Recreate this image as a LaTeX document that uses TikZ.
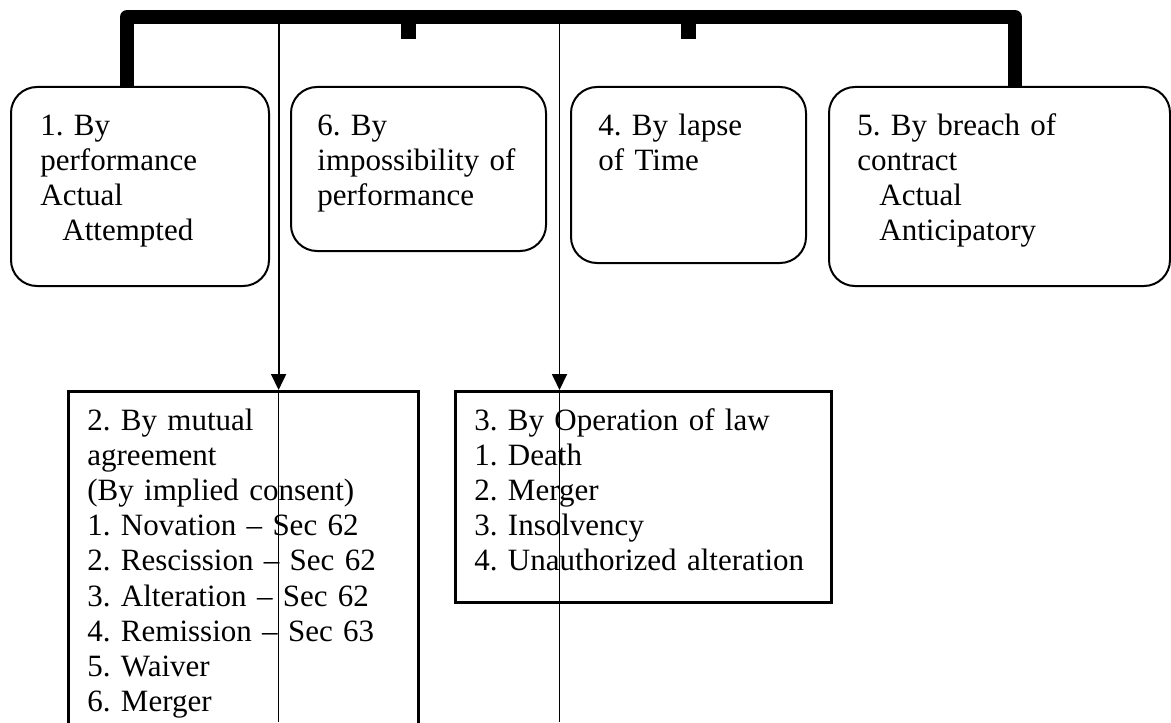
\documentclass[tikz,border=0pt]{standalone}
\usepackage{fontspec}
\setmainfont{Liberation Serif}
\usepackage{tikz}
\usetikzlibrary{arrows.meta}
\usetikzlibrary{positioning}
\newcommand{\shiftin}{\hspace*{11pt}}
\frenchspacing

\tikzset{
    roundbox/.style={draw=black, line width=1pt, rounded corners=13pt, anchor=north west, inner sep=0pt},
    rectbox/.style={draw=black, line width=1.3pt, anchor=north west, inner sep=0pt},
    boxtext/.style={anchor=base west, inner sep=0pt, align=left, text width=#1,
                    font=\fontsize{15.5pt}{17.6pt}\selectfont},
    bar/.style={line width=7pt, line join=round},
    tabmark/.style={line width=7.5pt},
    link/.style={line width=0.9pt, -{Triangle[width=7.5pt, length=8pt]}},
    thinline/.style={line width=0.5pt}
}

\begin{document}
\begin{tikzpicture}[x=0.5pt, y=-0.5pt]
            \useasboundingbox (0,0) rectangle (1171,722);
            \clip (0,0) rectangle (1171,722);
            % Upper row
            \node[roundbox, minimum width=129pt,   minimum height=99.5pt] (perf)   at (10,86)  {};
            \node[roundbox, minimum width=127.5pt, minimum height=82pt]   (imposs) at (290,86) {};
            \node[roundbox, minimum width=117.5pt, minimum height=88pt]   (lapse)  at (570,86) {};
            \node[roundbox, minimum width=170.5pt, minimum height=99.5pt] (breach) at (828,86) {};
            \node[boxtext=110pt] (perftxt)   at (40,135)  {1. By\\performance\\Actual\\\shiftin Attempted};
            \node[boxtext=110pt] (impostxt)  at (317,135) {6. By\\impossibility of\\performance};
            \node[boxtext=100pt] (lapsetxt)  at (598,135) {4. By lapse\\of Time};
            \node[boxtext=150pt] (breachtxt) at (857,135) {5. By breach of\\contract\\\shiftin Actual\\\shiftin Anticipatory};
            % Lower row
            \node[rectbox, minimum width=175pt, minimum height=180pt]   (mutual) at (67,390)  {};
            \node[rectbox, minimum width=188pt, minimum height=105.5pt] (law)    at (454,390) {};
            \node[boxtext=160pt] (mutualtxt) at (87,430)  {2. By mutual\\agreement\\(By implied consent)\\1. Novation – Sec 62\\2. Rescission – Sec 62\\3. Alteration – Sec 62\\4. Remission – Sec 63\\5. Waiver\\6. Merger};
            \node[boxtext=175pt] (lawtxt)    at (474,430) {3. By Operation of law\\1. Death\\2. Merger\\3. Insolvency\\4. Unauthorized alteration};
            % Bracket points
            \coordinate (sl)  at (127,17);
            \coordinate (sr)  at (1015,17);
            \coordinate (k1)  at (408,39);
            \coordinate (k2)  at (688,39);
            \coordinate (a1)  at (278.6,17);
            \coordinate (a2)  at (559.5,17);
            \coordinate (e1)  at (278.6,722);
            \coordinate (e2)  at (559.5,722);
            % Down links
            \draw[link]     (a1) -- (a1 |- mutual.north);
            \draw[link]     (a2) -- (a2 |- law.north);
            \draw[thinline] (a1 |- mutual.north) -- (e1);
            \draw[thinline] (a2 |- law.north)    -- (e2);
            % Bracket
            \draw[bar]      (sl |- perf.north) -- (sl) -- (sr) -- (sr |- breach.north);
            \draw[tabmark]  (k1 |- sl) -- (k1);
            \draw[tabmark]  (k2 |- sl) -- (k2);
\end{tikzpicture}
\end{document}
